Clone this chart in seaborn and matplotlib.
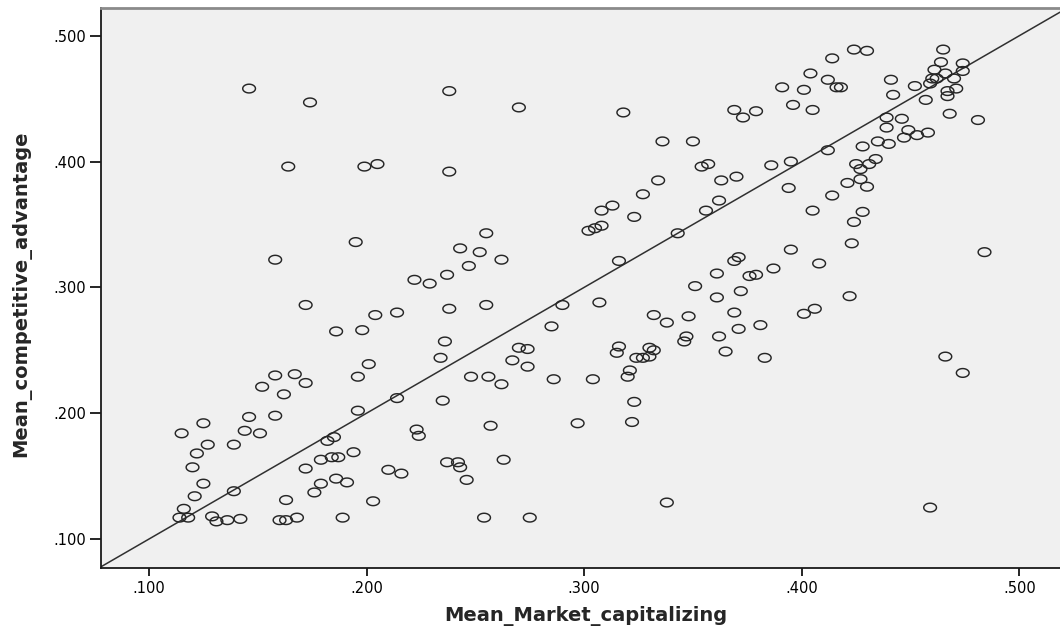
import matplotlib
matplotlib.use("Agg")
import matplotlib.pyplot as plt
import seaborn as sns
import numpy as np
import pandas as pd
from matplotlib.path import Path
from matplotlib.ticker import FuncFormatter, FixedLocator

# ---- data ----
market_capitalizing = [
    0.146, 0.174, 0.164, 0.158,
    0.172, 0.158, 0.167, 0.172, 0.152, 0.162, 0.125, 0.115, 0.146, 0.158,
    0.144, 0.151, 0.127, 0.139, 0.122, 0.120, 0.125, 0.121, 0.139, 0.116,
    0.114, 0.118, 0.129, 0.131, 0.136, 0.142, 0.160, 0.163, 0.168, 0.163, 0.172,
    0.238, 0.270, 0.199, 0.205, 0.238, 0.195, 0.255, 0.243, 0.252, 0.262,
    0.247, 0.237, 0.222, 0.229,
    0.255, 0.238, 0.204, 0.214, 0.186, 0.198, 0.236, 0.234, 0.201, 0.196,
    0.270, 0.274, 0.267, 0.274, 0.285, 0.286, 0.248, 0.256, 0.262, 0.214,
    0.235, 0.196, 0.223, 0.224, 0.257, 0.182, 0.185, 0.179, 0.184, 0.187,
    0.194, 0.186, 0.179, 0.191, 0.176, 0.210, 0.216, 0.237, 0.242, 0.243,
    0.246, 0.263, 0.203, 0.189, 0.254, 0.275,
    0.318, 0.336, 0.350, 0.391, 0.369, 0.373, 0.379, 0.396, 0.354, 0.357,
    0.363, 0.370, 0.386, 0.395, 0.394, 0.334, 0.327, 0.308, 0.313, 0.323,
    0.302, 0.305, 0.308, 0.362, 0.356, 0.343, 0.316, 0.395, 0.369, 0.371,
    0.361, 0.387, 0.376, 0.379, 0.351, 0.372,
    0.290, 0.307, 0.361, 0.369, 0.381, 0.332, 0.338, 0.348, 0.371, 0.362,
    0.347, 0.346, 0.365, 0.383, 0.316, 0.315, 0.330, 0.332, 0.324, 0.327,
    0.330, 0.321, 0.320, 0.304, 0.323, 0.297, 0.322, 0.338,
    0.424, 0.430, 0.414, 0.465, 0.404, 0.412, 0.401, 0.416, 0.418, 0.405,
    0.441, 0.442, 0.452, 0.464, 0.474, 0.461, 0.466, 0.474, 0.460, 0.462,
    0.459, 0.470, 0.471, 0.467, 0.467, 0.457, 0.468, 0.481, 0.439, 0.446,
    0.439, 0.449, 0.447, 0.453, 0.458, 0.435, 0.440, 0.428, 0.412, 0.425,
    0.427, 0.431, 0.434, 0.427, 0.421, 0.430, 0.414, 0.405, 0.428, 0.424,
    0.423, 0.408, 0.484,
    0.401, 0.406, 0.422, 0.466, 0.474, 0.459,
]
competitive_advantage = [
    0.458, 0.447, 0.396, 0.322,
    0.286, 0.230, 0.231, 0.224, 0.221, 0.215, 0.192, 0.184, 0.197, 0.198,
    0.186, 0.184, 0.175, 0.175, 0.168, 0.157, 0.144, 0.134, 0.138, 0.124,
    0.117, 0.117, 0.118, 0.114, 0.115, 0.116, 0.115, 0.115, 0.117, 0.131, 0.156,
    0.456, 0.443, 0.396, 0.398, 0.392, 0.336, 0.343, 0.331, 0.328, 0.322,
    0.317, 0.310, 0.306, 0.303,
    0.286, 0.283, 0.278, 0.280, 0.265, 0.266, 0.257, 0.244, 0.239, 0.229,
    0.252, 0.251, 0.242, 0.237, 0.269, 0.227, 0.229, 0.229, 0.223, 0.212,
    0.210, 0.202, 0.187, 0.182, 0.190, 0.178, 0.181, 0.163, 0.165, 0.165,
    0.169, 0.148, 0.144, 0.145, 0.137, 0.155, 0.152, 0.161, 0.161, 0.157,
    0.147, 0.163, 0.130, 0.117, 0.117, 0.117,
    0.439, 0.416, 0.416, 0.459, 0.441, 0.435, 0.440, 0.445, 0.396, 0.398,
    0.385, 0.388, 0.397, 0.400, 0.379, 0.385, 0.374, 0.361, 0.365, 0.356,
    0.345, 0.347, 0.349, 0.369, 0.361, 0.343, 0.321, 0.330, 0.321, 0.324,
    0.311, 0.315, 0.309, 0.310, 0.301, 0.297,
    0.286, 0.288, 0.292, 0.280, 0.270, 0.278, 0.272, 0.277, 0.267, 0.261,
    0.261, 0.257, 0.249, 0.244, 0.253, 0.248, 0.252, 0.250, 0.244, 0.244,
    0.245, 0.234, 0.229, 0.227, 0.209, 0.192, 0.193, 0.129,
    0.489, 0.488, 0.482, 0.489, 0.470, 0.465, 0.457, 0.459, 0.459, 0.441,
    0.465, 0.453, 0.460, 0.479, 0.478, 0.473, 0.470, 0.472, 0.466, 0.466,
    0.462, 0.466, 0.458, 0.456, 0.452, 0.449, 0.438, 0.433, 0.435, 0.434,
    0.427, 0.425, 0.419, 0.421, 0.423, 0.416, 0.414, 0.412, 0.409, 0.398,
    0.394, 0.398, 0.402, 0.386, 0.383, 0.380, 0.373, 0.361, 0.360, 0.352,
    0.335, 0.319, 0.328,
    0.279, 0.283, 0.293, 0.245, 0.232, 0.125,
]
x_ticks = [0.100, 0.200, 0.300, 0.400, 0.500]
y_ticks = [0.100, 0.200, 0.300, 0.400, 0.500]
x_label = "Mean_Market_capitalizing"
y_label = "Mean_competitive_advantage"

df = pd.DataFrame({x_label: market_capitalizing, y_label: competitive_advantage})

sns.set_style("white")
plt.rcParams["font.family"] = ["DejaVu Sans"]

fig = plt.figure(figsize=(10.6, 6.28), dpi=100)
ax = fig.add_axes([0.095, 0.096, 0.905, 0.8908])
ax.set_facecolor("#F0F0F0")

# elliptical open-circle marker (the reference is horizontally stretched)
t = np.linspace(0, 2 * np.pi, 60)
ell = Path(np.column_stack([1.46 * np.cos(t), np.sin(t)]), closed=True)

sns.scatterplot(data=df, x=x_label, y=y_label, ax=ax, marker=ell, s=84,
                facecolor="none", edgecolor="#262626", linewidth=1.05, zorder=3)

ax.axline((0.1, 0.1), slope=1, color="#303030", linewidth=1.1, zorder=2)

ax.set_xlim(0.0778, 0.5187)
ax.set_ylim(0.0772, 0.5218)

fmt = FuncFormatter(lambda v, p: f"{v:.3f}".lstrip("0"))
ax.xaxis.set_major_locator(FixedLocator(x_ticks))
ax.yaxis.set_major_locator(FixedLocator(y_ticks))
ax.xaxis.set_major_formatter(fmt)
ax.yaxis.set_major_formatter(fmt)
ax.tick_params(axis="x", direction="out", length=5.5, width=1.2, pad=4,
               labelsize=10.5, colors="black", bottom=True)
ax.tick_params(axis="y", direction="out", length=8, width=1.2, pad=2.5,
               labelsize=10.5, colors="black", left=True)

for side in ["left", "bottom"]:
    ax.spines[side].set_color("#1a1a1a")
    ax.spines[side].set_linewidth(1.3)
ax.spines["top"].set_color("#8a8a8a")
ax.spines["top"].set_linewidth(2)
ax.spines["right"].set_visible(False)

ax.set_xlabel(x_label, fontsize=14, fontweight="bold")
ax.set_ylabel(y_label, fontsize=14, fontweight="bold")
ax.xaxis.set_label_coords(0.506, -0.068)
ax.yaxis.set_label_coords(-0.072, 0.49)

fig.savefig("out.png", dpi=100)
